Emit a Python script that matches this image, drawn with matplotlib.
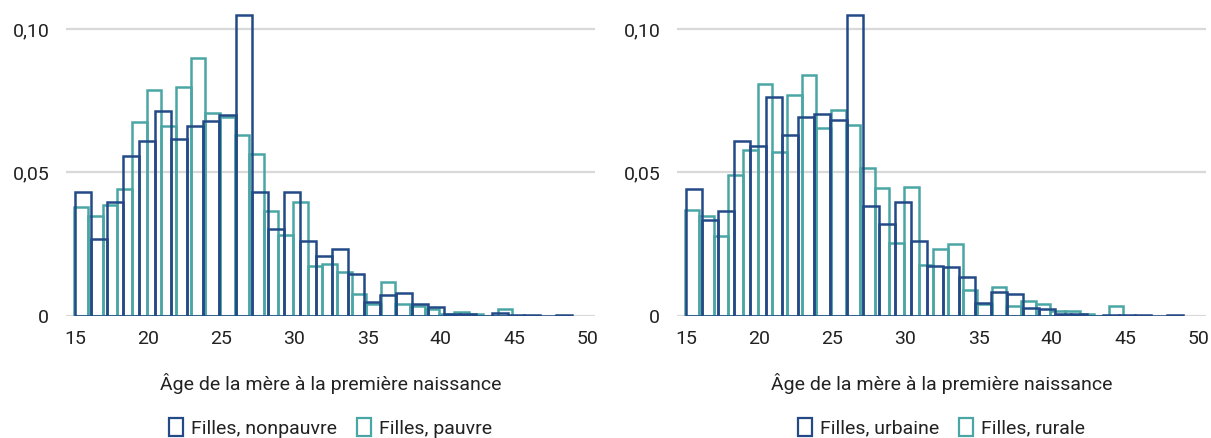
import numpy as np
import matplotlib
matplotlib.use("Agg")
import matplotlib.pyplot as plt
from matplotlib.patches import Patch

plt.rcParams['font.family'] = ['Roboto', 'DejaVu Sans']

# Histogram bins (age of mother at first birth)
dark_edges = np.linspace(15, 49, 32)          # 31 bins
teal_edges = np.linspace(14.9, 44.9, 31)      # 30 bins

# Left panel: nonpoor vs poor
nonpauvre = [0.0431, 0.0270, 0.0396, 0.0556, 0.0610, 0.0713, 0.0617, 0.0662, 0.0680, 0.0699,
             0.1047, 0.0431, 0.0304, 0.0431, 0.0263, 0.0210, 0.0233, 0.0148, 0.0049, 0.0072,
             0.0080, 0.0041, 0.0031, 0.0006, 0.0008, 0.0, 0.0009, 0.0004, 0.0004, 0.0, 0.0004]
pauvre = [0.0379, 0.0350, 0.0387, 0.0441, 0.0676, 0.0787, 0.0661, 0.0798, 0.0899, 0.0706,
          0.0694, 0.0629, 0.0564, 0.0367, 0.0282, 0.0396, 0.0174, 0.0182, 0.0154, 0.0078,
          0.0043, 0.0117, 0.0043, 0.0035, 0.0023, 0.0006, 0.0014, 0.0006, 0.0, 0.0026]

# Right panel: urban vs rural
urbaine = [0.0441, 0.0336, 0.0365, 0.0610, 0.0591, 0.0762, 0.0632, 0.0695, 0.0703, 0.0684,
           0.1050, 0.0385, 0.0319, 0.0396, 0.0260, 0.0175, 0.0169, 0.0136, 0.0047, 0.0082,
           0.0078, 0.0029, 0.0023, 0.0006, 0.0006, 0.0, 0.0004, 0.0004, 0.0004, 0.0, 0.0004]
rurale = [0.0369, 0.0347, 0.0280, 0.0492, 0.0580, 0.0809, 0.0573, 0.0770, 0.0838, 0.0656,
          0.0716, 0.0664, 0.0515, 0.0445, 0.0256, 0.0449, 0.0178, 0.0233, 0.0251, 0.0092,
          0.0041, 0.0101, 0.0035, 0.0052, 0.0043, 0.0017, 0.0017, 0.0008, 0.0, 0.0035]

xticks = [15, 20, 25, 30, 35, 40, 45, 50]
yticks = [0, 0.05, 0.10]
ytick_labels = ['0', '0,05', '0,10']
xlabel = "Âge de la mère à la première naissance"
legend_left = ["Filles, nonpauvre", "Filles, pauvre"]
legend_right = ["Filles, urbaine", "Filles, rurale"]

DARK = '#234a86'
TEAL = '#4aa6a4'
GRID = '#d9d9d9'
TXT = '#222222'
FS = 14

fig = plt.figure(figsize=(12.11, 4.38), dpi=100)
axL = fig.add_axes([66/1211, 1 - 316/438, 529/1211, 316/438])
axR = fig.add_axes([677/1211, 1 - 316/438, 529/1211, 316/438])


def draw(ax, d, t, labels):
    ax.set_xlim(14.38, 50.54)
    ax.set_ylim(0, 0.1101)
    for yv in yticks:
        ax.axhline(yv, color=GRID, lw=1.6, zorder=0)
    ax.bar(teal_edges[:-1], t, width=np.diff(teal_edges), align='edge',
           fill=False, edgecolor=TEAL, linewidth=1.8, zorder=2)
    ax.bar(dark_edges[:-1], d, width=np.diff(dark_edges), align='edge',
           fill=False, edgecolor=DARK, linewidth=1.8, zorder=3)
    for s in ax.spines.values():
        s.set_visible(False)
    ax.set_xticks(xticks)
    ax.set_xticklabels([str(v) for v in xticks])
    ax.set_yticks(yticks)
    ax.set_yticklabels(ytick_labels)
    ax.tick_params(axis='x', length=0, pad=10, labelsize=FS, colors=TXT)
    ax.tick_params(axis='y', length=0, pad=12, labelsize=FS, colors=TXT)
    ax.set_xlabel(xlabel, fontsize=FS, color=TXT)
    ax.xaxis.set_label_coords(0.5, -67/316)
    ax.xaxis.label.set_va('center')
    handles = [Patch(facecolor='none', edgecolor=DARK, linewidth=1.6),
               Patch(facecolor='none', edgecolor=TEAL, linewidth=1.6)]
    ax.legend(handles, labels, loc='center', bbox_to_anchor=(0.5, -112/316),
              ncol=2, frameon=False, fontsize=FS, handlelength=0.75, handleheight=1.0,
              handletextpad=0.4, columnspacing=1.0, labelcolor=TXT,
              borderpad=0, borderaxespad=0)


draw(axL, nonpauvre, pauvre, legend_left)
draw(axR, urbaine, rurale, legend_right)

fig.savefig('out.png', dpi=100)
